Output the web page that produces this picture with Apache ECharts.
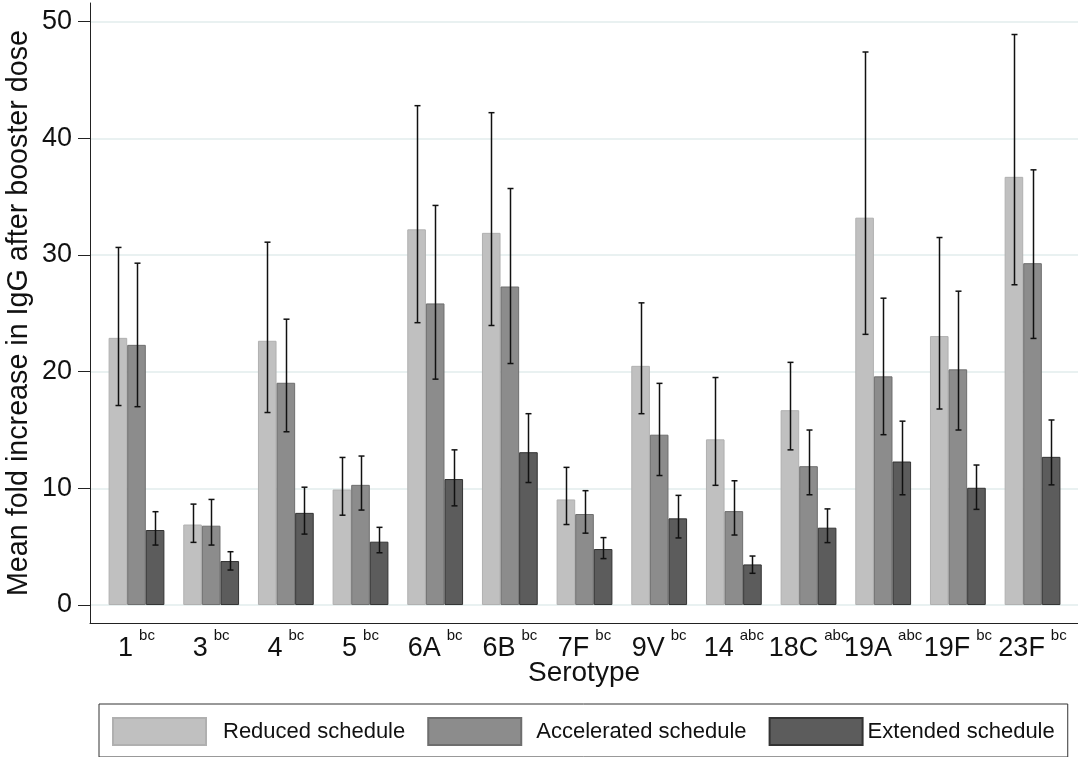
<!DOCTYPE html>
<html>
<head>
<meta charset="utf-8">
<script src="https://cdn.jsdelivr.net/npm/echarts@6/dist/echarts.min.js"></script>
<style>
html,body{margin:0;padding:0;background:#fff;}
#chart{width:1078px;height:757px;}
</style>
</head>
<body>
<div id="chart"></div>
<script>
// ---- data ----
var categories = ['1','3','4','5','6A','6B','7F','9V','14','18C','19A','19F','23F'];
var superscripts = ['bc','bc','bc','bc','bc','bc','bc','bc','abc','abc','abc','bc','bc'];
var seriesNames = ['Reduced schedule','Accelerated schedule','Extended schedule'];

var reduced      = [22.9, 6.9, 22.65, 9.9, 32.2, 31.9, 9.05, 20.5, 14.2, 16.7, 33.2, 23.05, 36.7];
var reducedLow   = [17.1, 5.37, 16.5, 7.7, 24.2, 23.96, 6.9, 16.4, 10.26, 13.3, 23.2, 16.8, 27.45];
var reducedHigh  = [30.65, 8.65, 31.1, 12.65, 42.8, 42.2, 11.8, 25.9, 19.5, 20.8, 47.4, 31.5, 48.9];

var accelerated     = [22.3, 6.8, 19.05, 10.3, 25.85, 27.3, 7.8, 14.6, 8.05, 11.9, 19.6, 20.2, 29.3];
var acceleratedLow  = [17.0, 5.14, 14.85, 8.14, 19.36, 20.7, 6.16, 11.1, 6.0, 9.45, 14.6, 15.0, 22.85];
var acceleratedHigh = [29.3, 9.05, 24.5, 12.77, 34.25, 35.7, 9.8, 19.0, 10.65, 15.0, 26.3, 26.9, 37.3];

var extended     = [6.43, 3.77, 7.9, 5.43, 10.8, 13.1, 4.8, 7.43, 3.48, 6.63, 12.3, 10.05, 12.7];
var extendedLow  = [5.14, 3.0, 6.08, 4.48, 8.5, 10.5, 3.98, 5.75, 2.72, 5.35, 9.45, 8.2, 10.3];
var extendedHigh = [8.0, 4.57, 10.1, 6.66, 13.3, 16.4, 5.78, 9.4, 4.2, 8.24, 15.76, 12.0, 15.86];

var yTicks = [0, 10, 20, 30, 40, 50];

// ---- styling ----
var FONT = "'Liberation Sans', Arial, sans-serif";
var BAR_W = 18.6;
var fills   = ['#c0c0c0', '#8c8c8c', '#5c5c5c'];
var borders = ['#b0b0b0', '#6e6e6e', '#333333'];

var means = [reduced, accelerated, extended];
var lows  = [reducedLow, acceleratedLow, extendedLow];
var highs = [reducedHigh, acceleratedHigh, extendedHigh];

var xIdx = categories.map(function (c, i) { return i; });

var series = [];
seriesNames.forEach(function (name, k) {
  series.push({
    name: name,
    type: 'bar',
    barWidth: BAR_W,
    barGap: '0%',
    data: xIdx.map(function (i) { return [i, means[k][i]]; }),
    itemStyle: { color: fills[k], borderColor: borders[k], borderWidth: 1 },
    emphasis: { disabled: true },
    silent: true
  });
});
seriesNames.forEach(function (name, k) {
  series.push({
    name: name + ' CI',
    type: 'custom',
    silent: true,
    z: 5,
    data: xIdx.map(function (i) { return [i, lows[k][i], highs[k][i]]; }),
    encode: { x: 0, y: [1, 2] },
    renderItem: function (params, api) {
      var off = (k - 1) * BAR_W;
      var lo = api.coord([api.value(0), api.value(1)]);
      var hi = api.coord([api.value(0), api.value(2)]);
      var x = Math.round(lo[0] + off) + 0.5;
      var cap = 3;
      var st = { stroke: '#111', lineWidth: 1.5 };
      return {
        type: 'group',
        children: [
          { type: 'line', shape: { x1: x, y1: lo[1], x2: x, y2: hi[1] }, style: st },
          { type: 'line', shape: { x1: x - cap, y1: lo[1], x2: x + cap, y2: lo[1] }, style: st },
          { type: 'line', shape: { x1: x - cap, y1: hi[1], x2: x + cap, y2: hi[1] }, style: st }
        ]
      };
    }
  });
});

var chart = echarts.init(document.getElementById('chart'), null, { renderer: 'canvas' });
chart.setOption({
  animation: false,
  backgroundColor: '#fff',
  textStyle: { fontFamily: FONT },
  grid: { left: 90, right: 0, top: 3, bottom: 757 - 623, containLabel: false, outerBoundsMode: 'none' },
  legend: {
    data: [
      { name: seriesNames[0], textStyle: { padding: [0, 6, 0, 12] } },
      { name: seriesNames[1], textStyle: { padding: [0, 0, 0, 10] } },
      { name: seriesNames[2] }
    ],
    left: 99,
    top: 704,
    orient: 'horizontal',
    padding: [13, 13, 11, 13],
    borderColor: '#333',
    borderWidth: 1,
    itemWidth: 93,
    itemHeight: 27,
    itemGap: 22,
    icon: 'rect',
    selectedMode: false,
    textStyle: { fontFamily: FONT, fontSize: 22, color: '#111' }
  },
  xAxis: {
    type: 'value',
    min: -0.6228,
    max: 12.609,
    name: 'Serotype',
    nameLocation: 'middle',
    nameGap: 36,
    nameMoveOverlap: false,
    nameTextStyle: { fontFamily: FONT, fontSize: 28, color: '#111', verticalAlign: 'top' },
    axisLine: { show: true, onZero: false, lineStyle: { color: '#222', width: 1 } },
    axisTick: { show: false },
    splitLine: { show: false },
    axisLabel: {
      customValues: xIdx,
      margin: 5,
      formatter: function (v) {
        var i = Math.round(v);
        return '{m|' + categories[i] + '}{s|' + superscripts[i] + '}';
      },
      rich: {
        m: { fontFamily: FONT, fontSize: 27, color: '#111', lineHeight: 41 },
        s: { fontFamily: FONT, fontSize: 15, color: '#111', padding: [0, 0, 0, 6], verticalAlign: 'top', lineHeight: 15 }
      }
    }
  },
  yAxis: {
    type: 'value',
    min: -1.54,
    max: 51.6,
    name: 'Mean fold increase in IgG after booster dose',
    nameLocation: 'middle',
    nameGap: 56,
    nameMoveOverlap: false,
    nameTextStyle: { fontFamily: FONT, fontSize: 28.7, color: '#111' },
    axisLine: { show: true, onZero: false, lineStyle: { color: '#222', width: 1 } },
    axisTick: { show: true, customValues: yTicks, length: 12, lineStyle: { color: '#222', width: 1 } },
    axisLabel: { customValues: yTicks, margin: 18, fontFamily: FONT, fontSize: 27, color: '#111' },
    splitLine: { show: true, lineStyle: { color: '#e2ecec', width: 1.5 } }
  },
  series: series
});
</script>
</body>
</html>
